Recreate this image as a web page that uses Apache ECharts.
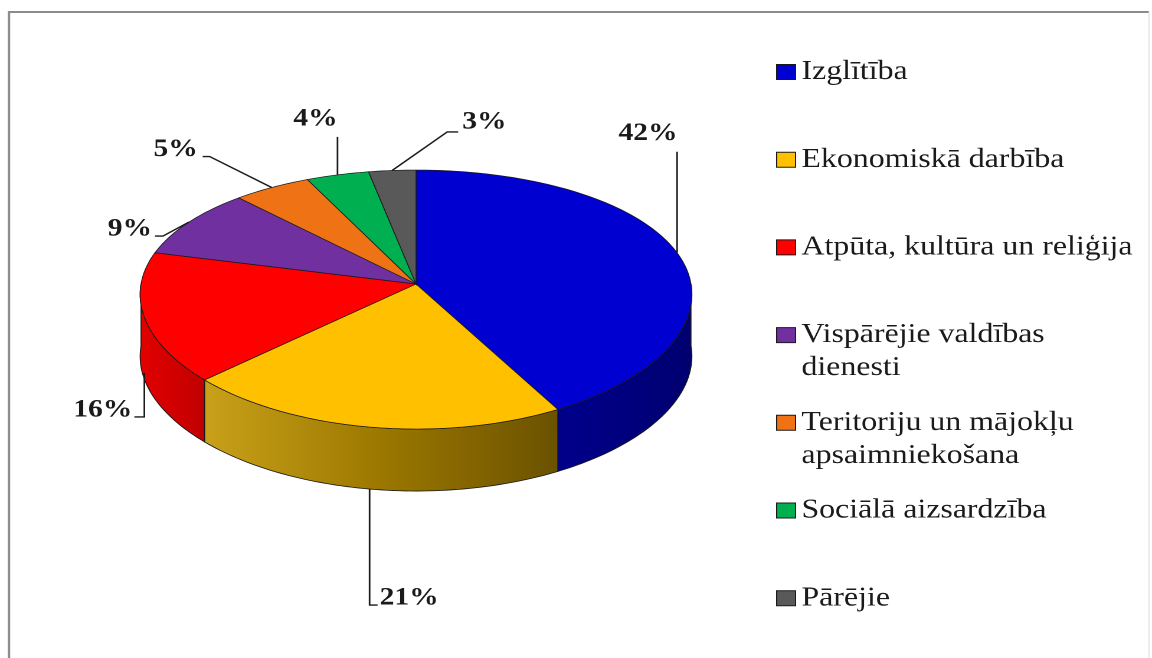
<!DOCTYPE html>
<html>
<head>
<meta charset="utf-8"/>
<title>Izdevumu struktūra</title>
<script src="https://cdn.jsdelivr.net/npm/echarts@6/dist/echarts.min.js"></script>
<style>
    html, body { margin: 0; padding: 0; background: #fff; overflow: hidden; }
    /* the picture is stretched sideways, so draw narrower and scale the canvas */
    #main { width: 976px; height: 658px; transform: scaleX(1.180328); transform-origin: 0 0; }
</style>
</head>
<body>
<div id="main"></div>
<script>
    // dati
    var categories = ['Izglītība', 'Ekonomiskā darbība', 'Atpūta, kultūra un reliģija',
        'Vispārējie valdības\ndienesti', 'Teritoriju un mājokļu\napsaimniekošana',
        'Sociālā aizsardzība', 'Pārējie'];
    var values = [42, 21, 16, 9, 5, 4, 3];
    var colors = ['#0000d0', '#ffc000', '#ff0000', '#7030a0', '#ef7215', '#00b050', '#595959'];
    // sānu sienu krāsas (gradients no kreisās uz labo)
    var wallColors = [['#00008c', '#000070'], ['#c9a11a', '#9c7800', '#6b5200'], ['#e30000', '#c00000'],
        null, null, null, null];
    // [h, elbowDx, elbowDy, tailDx, align, textDx, textDy] in screen px
    var leaderLayout = [
        [0, 0, -101, 0, 'center', -29, -18],
        [1, 0, 116, 8, 'left', 2, -7],
        [0.9, 0, 44, -10, 'right', -2, -7],
        [0, -26, 14, -8, 'right', -3, -7],
        [0, -62, -31, -7, 'right', -5, -7],
        [0, 0, -38, 0, 'center', -22, -18],
        [0, 55, -38.5, 11, 'left', 4, -10]
    ];

    var SX = 1152 / 976;
    var CX = 416, CY = 284, RX = 275, RY = 129.5, DEPTH = 62, PA = 0.12, PB = 0.08;
    var total = values.reduce(function (a, b) { return a + b; }, 0);

    function pt(t, h) {
        var c = Math.cos(t), s = Math.sin(t);
        return [(CX + RX * c * (1 + PB * s)) / SX, CY + RY * s * (1 + PA * s) + h * DEPTH];
    }

    function arc(t0, t1, h) {
        var n = Math.max(2, Math.ceil((t1 - t0) / 0.02));
        var pts = [];
        for (var i = 0; i <= n; i++) {
            pts.push(pt(t0 + (t1 - t0) * i / n, h));
        }
        return pts;
    }

    function renderSlice(i) {
        var before = 0;
        for (var k = 0; k < i; k++) before += values[k];
        var start = -Math.PI / 2 + 2 * Math.PI * before / total;
        var end = start + 2 * Math.PI * values[i] / total;
        var children = [];

        //sānu siena (tikai priekšējā pusē)
        var w0 = Math.max(start, 0), w1 = Math.min(end, Math.PI);
        if (w1 > w0 && wallColors[i]) {
            var stops = wallColors[i].map(function (c, j, arr) {
                return {offset: j / (arr.length - 1), color: c};
            });
            children.push({
                type: 'polygon',
                shape: {points: arc(w0, w1, 0).concat(arc(w0, w1, 1).reverse())},
                style: {fill: new echarts.graphic.LinearGradient(0, 0, 1, 0, stops), stroke: '#1a1a1a', lineWidth: 0.8}
            });
        }

        //augšējā virsma
        children.push({
            type: 'polygon',
            shape: {points: [[CX / SX, CY]].concat(arc(start, end, 0))},
            style: {fill: colors[i], stroke: '#1a1a1a', lineWidth: 0.7}
        });

        //etiķete ar līniju
        var L = leaderLayout[i];
        var mid = (start + end) / 2;
        var a = pt(mid, L[0]);
        var e1 = [a[0] + L[1] / SX, a[1] + L[2]];
        var e2 = [e1[0] + L[3] / SX, e1[1]];
        children.push({
            type: 'polyline',
            shape: {points: [a, e1, e2]},
            style: {stroke: '#1a1a1a', lineWidth: 1.4, fill: null}
        });
        children.push({
            type: 'text',
            x: e2[0] + L[5] / SX,
            y: e2[1] + L[6],
            style: {
                text: Math.round(values[i] / total * 100) + '%',
                fontFamily: '"Liberation Serif", serif',
                fontWeight: 'bold',
                fontSize: 25,
                fill: '#1a1a1a',
                align: L[4],
                verticalAlign: 'middle'
            }
        });
        return {type: 'group', children: children};
    }

    var series = categories.map(function (name, i) {
        return {
            type: 'custom',
            name: name,
            coordinateSystem: 'none',
            silent: true,
            data: [values[i]],
            itemStyle: {color: colors[i]},
            renderItem: function () {
                return renderSlice(i);
            }
        };
    });

    var chart = echarts.init(document.getElementById('main'), null, {devicePixelRatio: 2});
    var option = {
        animation: false,
        backgroundColor: '#fff',
        graphic: [{
            type: 'polyline',
            silent: true,
            shape: {points: [[9 / SX, 700], [9 / SX, 12], [1149 / SX, 12]]},
            style: {stroke: '#8c8c8c', lineWidth: 2, fill: null}
        }, {
            type: 'line',
            silent: true,
            shape: {x1: 1149 / SX, y1: 12, x2: 1149 / SX, y2: 700},
            style: {stroke: '#e4e4e4', lineWidth: 1}
        }],
        legend: {
            data: categories,
            orient: 'vertical',
            left: 652.5,
            top: 17.5,
            itemGap: -11.3,
            itemWidth: 16,
            itemHeight: 15,
            icon: 'rect',
            selectedMode: false,
            itemStyle: {borderColor: '#1a1a1a', borderWidth: 1},
            textStyle: {fontFamily: '"Liberation Serif", serif', fontSize: 27, color: '#1a1a1a', lineHeight: 33},
            formatter: function (name) {
                return '\n' + name + (name.indexOf('\n') < 0 ? '\n' : '');
            }
        },
        series: series
    };
    chart.setOption(option);
    window.onresize = function () {
        chart.resize();
    };
</script>
</body>
</html>
